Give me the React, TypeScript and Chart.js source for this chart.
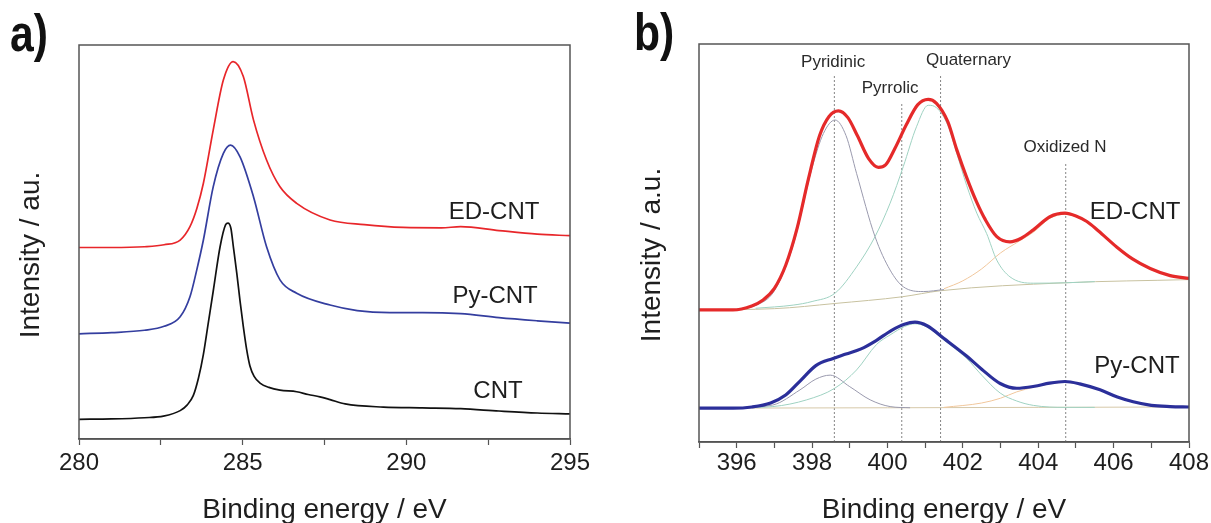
import React, { useEffect, useRef } from "react";
import { Chart, registerables } from "chart.js";

Chart.register(...registerables);

const FONT = '"Liberation Sans", Arial, sans-serif';
const LETTER_FONT = 'bold 52px "Liberation Sans", Arial, sans-serif';

// ---------------- Panel a: C 1s ----------------
const aTickStep = 2.5;
const aRange = [280, 295];

const aEnergyED = [280, 281, 282, 282.6, 283.09, 283.39, 283.6, 283.8, 284.1, 284.41, 284.71, 285.02, 285.33, 285.73, 286.14, 286.65, 287.67, 288.72, 289.9, 291.07, 291.66, 292.83, 294.0, 295];
const aIntensityED = [48.6, 48.6, 48.8, 49.3, 50.5, 53.9, 58.5, 64.9, 78.4, 91.1, 95.8, 92.0, 81.0, 70.8, 64.0, 59.8, 55.6, 54.4, 53.7, 53.6, 53.9, 52.9, 52.0, 51.6];

const aEnergyPy = [280, 281, 282, 282.6, 283.09, 283.39, 283.6, 283.8, 284.1, 284.41, 284.63, 284.92, 285.33, 285.73, 286.14, 286.65, 287.67, 288.5, 289.5, 290.5, 291.66, 292.83, 294.0, 295];
const aIntensityPy = [26.7, 27.0, 27.6, 28.6, 31.0, 36.1, 43.0, 50.5, 64.0, 72.5, 74.6, 71.6, 61.5, 48.8, 40.4, 37.0, 34.0, 32.6, 32.1, 32.1, 31.8, 30.8, 30.0, 29.4];

const aEnergyCNT = [280, 281, 282, 282.58, 283.09, 283.3, 283.49, 283.65, 283.8, 283.95, 284.1, 284.31, 284.48, 284.55, 284.64, 284.72, 284.82, 284.92, 285.02, 285.12, 285.22, 285.35, 285.53, 285.8, 286.14, 286.65, 287.0, 287.36, 287.67, 288.13, 289.3, 290.48, 291.66, 292.83, 294.0, 295];
const aIntensityCNT = [5.0, 5.1, 5.4, 5.8, 7.2, 8.6, 11.0, 15.5, 21.5, 29.5, 37.5, 48.8, 54.4, 54.8, 53.5, 48.5, 42.1, 35.0, 28.5, 22.8, 18.6, 15.9, 14.2, 13.1, 12.4, 12.0, 11.3, 10.7, 10.0, 8.9, 8.1, 7.9, 7.7, 7.1, 6.6, 6.4];

const aLabelTexts = ["ED-CNT", "Py-CNT", "CNT"];
const aLabelEnergy = [292.68, 292.71, 292.8];
const aLabelIntensity = [55.8, 34.6, 10.3];

// ---------------- Panel b: N 1s ----------------
const bRange = [395, 408];

const bEnergyED = [395, 395.9, 396.4, 396.7, 397.0, 397.3, 397.6, 397.9, 398.2, 398.45, 398.7, 398.95, 399.2, 399.5, 399.76, 399.95, 400.2, 400.5, 400.8, 401.08, 401.3, 401.6, 401.84, 402.1, 402.37, 402.6, 402.9, 403.25, 403.55, 403.87, 404.31, 404.71, 405.0, 405.29, 405.6, 406.08, 406.5, 406.97, 407.5, 408];
const bIntensityED = [33.2, 33.2, 34.2, 35.7, 38.6, 44.4, 53.6, 66.0, 77.0, 81.8, 83.2, 81.5, 77.0, 71.2, 69.0, 69.6, 73.8, 79.7, 84.7, 86.1, 85.1, 80.5, 73.4, 66.5, 60.2, 55.8, 51.6, 50.3, 51.2, 53.3, 56.6, 57.5, 56.8, 55.4, 53.0, 49.0, 46.0, 43.6, 41.8, 41.1];

const bEnergyPy = [395, 395.9, 396.4, 396.9, 397.3, 397.7, 398.1, 398.56, 398.9, 399.3, 399.7, 400.1, 400.45, 400.73, 401.05, 401.5, 402.1, 402.5, 402.99, 403.43, 403.9, 404.3, 404.71, 405.1, 405.64, 406.1, 406.52, 407.0, 407.5, 408];
const bIntensityPy = [8.5, 8.5, 8.8, 9.8, 11.8, 15.5, 19.2, 21.0, 22.1, 23.4, 25.5, 28.0, 29.6, 30.1, 29.2, 26.0, 21.6, 18.3, 14.7, 13.5, 14.0, 14.8, 15.2, 14.6, 13.1, 11.3, 10.1, 9.2, 8.9, 8.8];

// fitted components, ED-CNT
const bBaseEnergyED = [395, 397, 398.6, 400.4, 401.4, 404.7, 408];
const bBaseED = [33.2, 33.5, 34.8, 36.5, 38.0, 40.0, 40.8];
const bPyridinicEnergyED = [396.0, 396.5, 397.0, 397.5, 398.0, 398.3, 398.61, 398.9, 399.18, 399.67, 400.07, 400.42, 400.95, 401.5];
const bPyridinicED = [33.4, 34.3, 38.0, 49.5, 68.9, 77.5, 80.9, 77.0, 67.5, 51.6, 43.2, 39.0, 37.8, 38.3];
const bPyrrolicEnergyED = [396.5, 397.5, 398.0, 398.61, 399.18, 399.67, 400.07, 400.42, 400.77, 401.08, 401.3, 401.6, 401.84, 402.1, 402.37, 402.63, 402.9, 403.25, 403.87, 404.71, 405.5];
const bPyrrolicED = [33.6, 34.4, 35.3, 37.4, 44.0, 51.6, 60.0, 69.2, 79.2, 84.6, 84.0, 79.6, 72.5, 64.5, 57.5, 52.4, 45.7, 41.5, 39.9, 40.0, 40.3];
const bOxidizedEnergyED = [401.5, 402.0, 402.5, 403.0, 403.5, 403.87, 404.31, 404.71, 405.29, 406.08, 406.97, 408];
const bOxidizedED = [38.5, 40.5, 43.5, 47.5, 50.5, 52.7, 56.2, 57.2, 55.2, 48.9, 43.4, 41.0];

// fitted components, Py-CNT
const bBaseEnergyPy = [395, 400, 404, 408];
const bBasePy = [8.5, 8.6, 8.7, 8.8];
const bPyridinicEnergyPy = [396.0, 396.96, 397.68, 398.1, 398.48, 399.0, 399.54, 400.07, 400.6];
const bPyridinicPy = [8.6, 9.3, 13.1, 15.8, 16.8, 13.9, 10.6, 8.9, 8.6];
const bPyrrolicEnergyPy = [396.0, 396.96, 397.86, 398.6, 399.18, 399.71, 400.07, 400.45, 400.73, 401.05, 401.5, 402.1, 402.5, 402.99, 403.43, 403.87, 404.71, 405.5];
const bPyrrolicPy = [8.6, 8.9, 10.6, 13.5, 18.1, 24.5, 26.9, 29.0, 29.7, 28.9, 25.6, 21.0, 16.8, 12.3, 10.3, 9.2, 8.7, 8.7];
const bOxidizedEnergyPy = [401.5, 402.5, 403.0, 403.43, 403.9, 404.3, 404.71, 405.1, 405.64, 406.1, 406.52, 407.0, 408];
const bOxidizedPy = [8.7, 9.8, 11.0, 12.6, 13.8, 14.6, 15.0, 14.5, 13.0, 11.2, 10.0, 9.1, 8.8];

// peak markers
const bMarkerNames = ["Pyridinic", "Pyrrolic", "Quaternary", "Oxidized N"];
const bMarkerEnergy = [398.59, 400.38, 401.41, 404.73];
const bMarkerTop = [92.0, 85.3, 92.0, 70.0];
const bMarkerLabelEnergy = [398.56, 400.07, 402.15, 404.71];
const bMarkerLabelIntensity = [94.3, 87.6, 94.7, 72.9];

const bLabelTexts = ["ED-CNT", "Py-CNT"];
const bLabelEnergy = [406.57, 406.62];
const bLabelIntensity = [56.1, 17.4];

// ---------------- helpers ----------------
const pts = (xs: number[], ys: number[]) => xs.map((x, i) => ({ x, y: ys[i] }));

type TextItem = { text: string; x: number; y: number; font: string; color: string };

function makeDecor(cfg: {
  texts: TextItem[];
  yTitle: string;
  yTitleX: number;
  yTitleY: number;
  letter: string;
  letterX: number;
  letterY: number;
}) {
  return {
    id: "decor",
    afterDraw(chart: any) {
      const { ctx, chartArea: ca, scales } = chart;
      ctx.save();
      ctx.strokeStyle = "#555";
      ctx.lineWidth = 1.5;
      ctx.strokeRect(ca.left, ca.top, ca.right - ca.left, ca.bottom - ca.top);
      ctx.textAlign = "center";
      ctx.textBaseline = "alphabetic";
      for (const t of cfg.texts) {
        ctx.font = t.font;
        ctx.fillStyle = t.color;
        ctx.fillText(t.text, scales.x.getPixelForValue(t.x), scales.y.getPixelForValue(t.y));
      }
      ctx.font = `28px ${FONT}`;
      ctx.fillStyle = "#1e1e1e";
      ctx.save();
      ctx.translate(cfg.yTitleX, cfg.yTitleY);
      ctx.rotate(-Math.PI / 2);
      ctx.fillText(cfg.yTitle, 0, 0);
      ctx.restore();
      ctx.save();
      ctx.font = LETTER_FONT;
      ctx.fillStyle = "#111";
      ctx.textAlign = "left";
      ctx.translate(cfg.letterX, cfg.letterY);
      ctx.scale(0.82, 1);
      ctx.fillText(cfg.letter, 0, 0);
      ctx.restore();
      ctx.restore();
    },
  };
}

function xAxis(min: number, max: number, step: number, labelEvery: number, tickPad: number, titlePadTop: number) {
  return {
    type: "linear" as const,
    min,
    max,
    ticks: {
      stepSize: step,
      autoSkip: false,
      maxRotation: 0,
      minRotation: 0,
      padding: tickPad,
      color: "#1e1e1e",
      font: { family: FONT, size: 24 },
      callback: (v: any) => (Math.abs(v % labelEvery) < 1e-6 ? String(v) : ""),
    },
    grid: { drawOnChartArea: false, drawTicks: true, tickLength: 6, color: "#555", tickWidth: 1.2 },
    border: { display: true, color: "#555", width: 1.5 },
    title: {
      display: true,
      text: "Binding energy / eV",
      color: "#1e1e1e",
      font: { family: FONT, size: 28 },
      padding: { top: titlePadTop, bottom: 0 },
    },
  };
}

const lineDs = (data: any, color: string, width: number, order: number) => ({
  data,
  borderColor: color,
  borderWidth: width,
  pointRadius: 0,
  fill: false,
  cubicInterpolationMode: "monotone" as const,
  order,
});

export default function App() {
  const refA = useRef<HTMLCanvasElement>(null);
  const refB = useRef<HTMLCanvasElement>(null);

  useEffect(() => {
    const seriesFont = `24px ${FONT}`;
    const chartA = new Chart(refA.current!, {
      type: "line",
      data: {
        datasets: [
          lineDs(pts(aEnergyED, aIntensityED), "#e8262a", 1.7, 1),
          lineDs(pts(aEnergyPy, aIntensityPy), "#343e9f", 1.7, 2),
          lineDs(pts(aEnergyCNT, aIntensityCNT), "#111111", 1.7, 3),
        ],
      },
      options: {
        animation: false,
        responsive: false,
        devicePixelRatio: 1,
        layout: { padding: { left: 79, right: 30, top: 45, bottom: 13.2 } },
        plugins: { legend: { display: false }, tooltip: { enabled: false } },
        scales: {
          x: xAxis(aRange[0], aRange[1], aTickStep, 5, 4, 11.4),
          y: { display: false, min: 0, max: 100 },
        },
      },
      plugins: [
        makeDecor({
          texts: aLabelTexts.map((t, i) => ({ text: t, x: aLabelEnergy[i], y: aLabelIntensity[i], font: seriesFont, color: "#1e1e1e" })),
          yTitle: "Intensity / au.",
          yTitleX: 39,
          yTitleY: 255,
          letter: "a)",
          letterX: 10,
          letterY: 51,
        }),
      ],
    } as any);

    const thin = 1;
    const markerDs = bMarkerEnergy.map((e, i) => ({
      data: [{ x: e, y: 0 }, { x: e, y: bMarkerTop[i] }],
      borderColor: "#777",
      borderWidth: 0.9,
      borderDash: [2, 2],
      pointRadius: 0,
      fill: false,
      order: 20,
    }));

    const chartB = new Chart(refB.current!, {
      type: "line",
      data: {
        datasets: [
          lineDs(pts(bEnergyED, bIntensityED), "#e52a2a", 3.2, 1),
          lineDs(pts(bEnergyPy, bIntensityPy), "#2b2f9a", 3.2, 2),
          lineDs(pts(bPyridinicEnergyED, bPyridinicED), "#9a9aae", thin, 10),
          lineDs(pts(bPyrrolicEnergyED, bPyrrolicED), "#9fd2c2", thin, 11),
          lineDs(pts(bOxidizedEnergyED, bOxidizedED), "#f1c79c", thin, 12),
          lineDs(pts(bBaseEnergyED, bBaseED), "#c8c2a0", thin, 13),
          lineDs(pts(bPyridinicEnergyPy, bPyridinicPy), "#9a9aae", thin, 10),
          lineDs(pts(bPyrrolicEnergyPy, bPyrrolicPy), "#9fd2c2", thin, 11),
          lineDs(pts(bOxidizedEnergyPy, bOxidizedPy), "#f1c79c", thin, 12),
          lineDs(pts(bBaseEnergyPy, bBasePy), "#d6c8a8", thin, 13),
          ...markerDs,
        ],
      },
      options: {
        animation: false,
        responsive: false,
        devicePixelRatio: 1,
        layout: { padding: { left: 99, right: 22, top: 44, bottom: 13.2 } },
        plugins: { legend: { display: false }, tooltip: { enabled: false } },
        scales: {
          x: xAxis(bRange[0], bRange[1], 1, 2, 1, 14.4),
          y: { display: false, min: 0, max: 100 },
        },
      },
      plugins: [
        makeDecor({
          texts: [
            ...bMarkerNames.map((t, i) => ({
              text: t,
              x: bMarkerLabelEnergy[i],
              y: bMarkerLabelIntensity[i],
              font: `17px ${FONT}`,
              color: "#2a2a2a",
            })),
            ...bLabelTexts.map((t, i) => ({ text: t, x: bLabelEnergy[i], y: bLabelIntensity[i], font: seriesFont, color: "#1e1e1e" })),
          ],
          yTitle: "Intensity / a.u.",
          yTitleX: 59.6,
          yTitleY: 255,
          letter: "b)",
          letterX: 34,
          letterY: 50,
        }),
      ],
    } as any);

    return () => {
      chartA.destroy();
      chartB.destroy();
    };
  }, []);

  return (
    <div style={{ position: "fixed", left: 0, top: 0, width: 1211, height: 523, overflow: "hidden", background: "#fff" }}>
      <canvas ref={refA} width={600} height={540} style={{ position: "absolute", left: 0, top: 0, width: 600, height: 540 }} />
      <canvas ref={refB} width={611} height={540} style={{ position: "absolute", left: 600, top: 0, width: 611, height: 540 }} />
    </div>
  );
}
